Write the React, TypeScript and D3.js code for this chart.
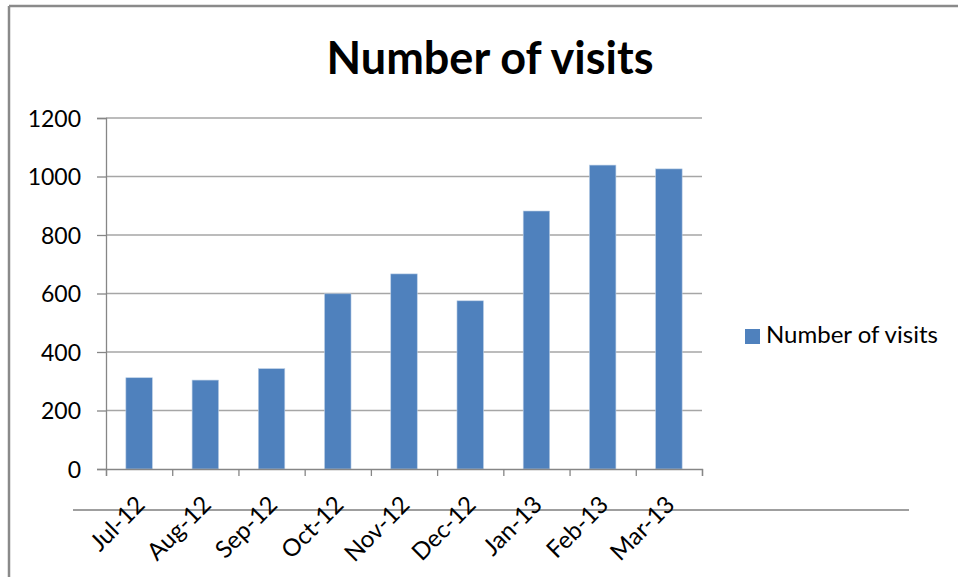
import { useEffect, useRef } from 'react';
import * as d3 from 'd3';

const months = ['Jul-12', 'Aug-12', 'Sep-12', 'Oct-12', 'Nov-12', 'Dec-12', 'Jan-13', 'Feb-13', 'Mar-13'];
const visits = [312, 304, 343, 599, 667, 575, 882, 1039, 1026];
const yTicks = [0, 200, 400, 600, 800, 1000, 1200];
const seriesName = 'Number of visits';
const chartTitle = 'Number of visits';

const App = () => {
  const chartRef = useRef(null);

  useEffect(() => {
    d3.select(chartRef.current).selectAll('svg').remove();
    const width = 958;
    const height = 577;
    const left = 106, right = 702, top = 118, bottom = 469;
    const font = 'Lato, "Open Sans", sans-serif';

    const svg = d3.select(chartRef.current)
      .append('svg')
      .attr('width', width)
      .attr('height', height)
      .style('position', 'absolute')
      .style('left', 0)
      .style('top', 0)
      .style('background', '#fff');

    // chart frame (top + left edge only visible)
    svg.append('line').attr('x1', 9).attr('x2', width).attr('y1', 6).attr('y2', 6)
      .attr('stroke', '#8a8a8a').attr('stroke-width', 2.5);
    svg.append('line').attr('x1', 9).attr('x2', 9).attr('y1', 6).attr('y2', height)
      .attr('stroke', '#8a8a8a').attr('stroke-width', 2.5);

    // title
    svg.append('text')
      .attr('x', 490)
      .attr('y', 74)
      .attr('text-anchor', 'middle')
      .attr('font-family', font)
      .attr('font-weight', 'bold')
      .attr('font-size', 45)
      .attr('fill', '#000')
      .text(chartTitle);

    const x = d3.scaleBand<string>()
      .domain(months)
      .range([left, right])
      .paddingInner(0.6)
      .paddingOuter(0.3);

    const xEdge = d3.scaleLinear().domain([0, months.length]).range([left, right]);

    const y = d3.scaleLinear().domain([0, 1200]).range([bottom, top]);

    // gridlines
    svg.append('g')
      .selectAll('line')
      .data(yTicks.filter(d => d > 0))
      .enter()
      .append('line')
      .attr('x1', left)
      .attr('x2', right)
      .attr('y1', d => y(d))
      .attr('y2', d => y(d))
      .attr('stroke', '#a6a6a6')
      .attr('stroke-width', 1.3);

    // bars
    svg.append('g')
      .selectAll('rect')
      .data(visits)
      .enter()
      .append('rect')
      .attr('x', (d, i) => x(months[i]) as number)
      .attr('y', d => y(d))
      .attr('width', x.bandwidth())
      .attr('height', d => bottom - y(d))
      .attr('fill', '#4f81bd')
      .attr('stroke', '#b9cde5')
      .attr('stroke-width', 0.6);

    // y axis
    const yAxis = svg.append('g')
      .attr('transform', `translate(${left},0)`)
      .call(d3.axisLeft(y).tickValues(yTicks).tickSize(9).tickPadding(16).tickFormat(d3.format('d')));
    yAxis.select('.domain').attr('stroke', '#868686').attr('stroke-width', 1.3);
    yAxis.selectAll('.tick line').attr('stroke', '#868686').attr('stroke-width', 1.3);
    yAxis.selectAll('.tick text')
      .attr('font-family', font)
      .attr('font-size', 23)
      .attr('fill', '#000')
      .attr('dy', '0.36em');

    // x axis (ticks between categories)
    const xAxis = svg.append('g')
      .attr('transform', `translate(0,${bottom})`)
      .call(d3.axisBottom(xEdge).tickValues(d3.range(months.length + 1)).tickSize(7).tickFormat(() => ''));
    xAxis.select('.domain').attr('stroke', '#868686').attr('stroke-width', 1.3);
    xAxis.selectAll('.tick line').attr('stroke', '#868686').attr('stroke-width', 1.3);

    // stray line under the axis
    svg.append('line').attr('x1', 73).attr('x2', 909).attr('y1', 510).attr('y2', 510)
      .attr('stroke', '#7f7f7f').attr('stroke-width', 1.5);

    // rotated month labels
    svg.append('g')
      .selectAll('text')
      .data(months)
      .enter()
      .append('text')
      .attr('transform', d => `translate(${(x(d) as number) + x.bandwidth() / 2 - 5},494) rotate(-45)`)
      .attr('text-anchor', 'end')
      .attr('dy', '0.72em')
      .attr('font-family', font)
      .attr('font-size', 24)
      .attr('fill', '#000')
      .text(d => d);

    // legend
    const legend = svg.append('g').attr('transform', 'translate(745,329)');
    legend.append('rect')
      .attr('width', 15)
      .attr('height', 15)
      .attr('fill', '#4f81bd');
    legend.append('text')
      .attr('x', 21)
      .attr('y', 14)
      .attr('font-family', font)
      .attr('font-size', 24)
      .attr('fill', '#000')
      .text(seriesName);
  }, []);

  return <div ref={chartRef}></div>;
};

export default App;
